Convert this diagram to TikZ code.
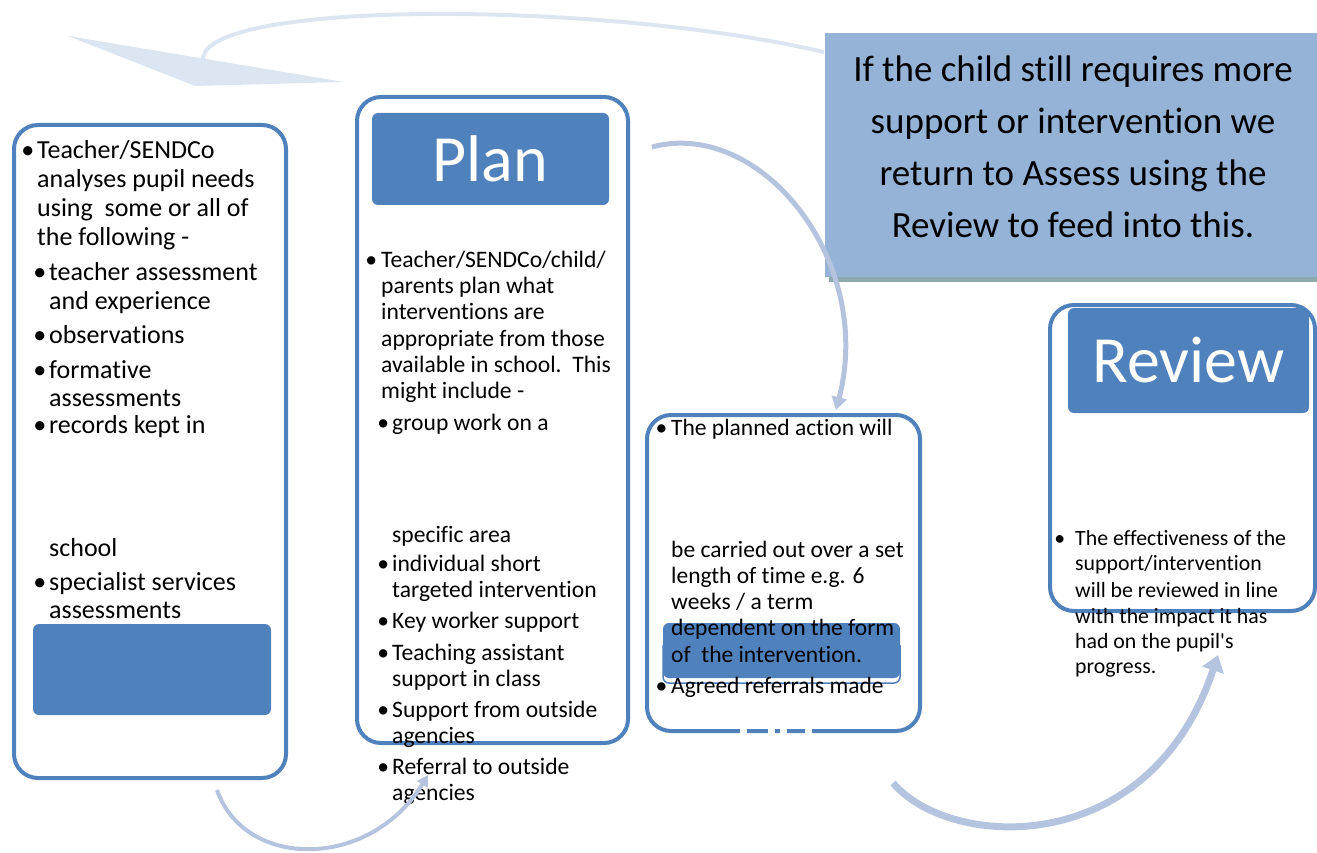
\documentclass[tikz,border=0pt]{standalone}
\usepackage{fontspec}
\setmainfont{Carlito}[Ligatures=NoCommon]
\usetikzlibrary{arrows.meta}

\definecolor{boxblue}{RGB}{79,129,189}
\definecolor{flowblue}{RGB}{180,196,223}
\definecolor{backblue}{RGB}{220,230,242}
\definecolor{noteblue}{RGB}{149,179,215}
\definecolor{noteshade}{RGB}{141,168,170}

\newcommand\bul[1][3pt]{\llap{\textbullet\hspace{#1}}}

\begin{document}
\begin{tikzpicture}[x=1pt, y=-1pt,
  frame/.style = {draw=boxblue, line width=4pt, rounded corners=24pt, fill=white,
    outer sep=0pt, inner sep=0pt, anchor=north west},
  head/.style = {fill=boxblue, rounded corners=6pt, outer sep=0pt, inner sep=0pt,
    anchor=north west},
  title/.style = {text=white, font=\fontsize{66}{70}\selectfont},
  line/.style = {anchor=base west, inner sep=0pt},
  asstxt/.style = {line, font=\fontsize{26}{29}\selectfont},
  plantxt/.style = {line, font=\fontsize{23.6}{26}\selectfont},
  dotxt/.style = {line, font=\fontsize{23.5}{26}\selectfont},
  revtxt/.style = {line, font=\fontsize{21.8}{26}\selectfont},
  notetxt/.style = {anchor=base, inner sep=0pt, font=\fontsize{37}{52}\selectfont},
  flow/.style = {draw=flowblue, line width=5pt}]

\useasboundingbox (0,0) rectangle (1317,853);

% return arrow behind the note
\coordinate (back-start) at (824,52);
\coordinate (back-end) at (203,60);
\draw[backblue, line width=4pt] (back-start) .. controls (600,0) and (200,0) .. (back-end);
\fill[backblue] (68,36) -- (195,86) -- (344,82) -- cycle;

% note
\fill[noteshade] (829,277) rectangle (1317,282);
\node[fill=noteblue, anchor=north west, inner sep=0pt, outer sep=0pt,
  minimum width=492pt, minimum height=244pt] (note) at (825,33) {};
\foreach \y/\t in {82/{If the child still requires more}, 134/{support or intervention we},
  186/{return to Assess using the}, 237/{Review to feed into this.}}
  \node[notetxt] (note\y) at (1073,\y) {\t};

% boxes
\node[frame, minimum width=272pt, minimum height=653pt] (assess) at (14,125) {};
\node[head, minimum width=238pt, minimum height=91pt] (assess-h) at (33,624) {};

\node[frame, minimum width=271pt, minimum height=646pt] (plan) at (357,97) {};
\node[head, minimum width=237pt, minimum height=92pt] (plan-h) at (372,113) {};
\node[title] (plan-t) at (plan-h) {Plan};

\node[frame, minimum width=273pt, minimum height=316pt] (do) at (647,415) {};
\draw[boxblue, line width=1.5pt, rounded corners=6pt] (663,645) -- (663,683) -- (900,683) -- (900,645);
\node[head, minimum width=237pt, minimum height=55pt] (do-h) at (663,623) {};
\foreach \a/\b in {740/747, 768/775, 780/787, 805/812}
  \fill[white] (\a,727) rectangle (\b,736);

\node[frame, minimum width=265pt, minimum height=306pt] (review) at (1050,305) {};
\node[head, minimum width=241pt, minimum height=105pt] (review-h) at (1068,308) {};
\node[title] (review-t) at (review-h) {Review};

% texts
\foreach \x/\y/\t in {37/159/{\bul Teacher/SENDCo}, 37/188/{analyses pupil needs},
  37/217/{using\ \ some or all of}, 37/246/{the following -},
  49/280/{\bul teacher assessment}, 49/309/{and experience},
  49/343/{\bul observations}, 49/378/{\bul formative}, 49/406/{assessments},
  49/433/{\bul records kept in}, 49/556/{school},
  49/590/{\bul specialist services}, 49/618/{assessments}}
  \node[asstxt] (assess\y) at (\x,\y) {\t};

\foreach \x/\y/\t in {381/267/{\bul[4pt]Teacher/SENDCo/child/}, 381/293/{parents plan what},
  381/319/{interventions are}, 381/346/{appropriate from those},
  381/372/{available in school.\ \ This}, 381/398/{might include -},
  392/430/{\bul group work on a}, 392/542/{specific area},
  392/571/{\bul individual short}, 392/597/{targeted intervention},
  392/628/{\bul Key worker support}, 392/660/{\bul Teaching assistant},
  392/686/{support in class}, 392/717/{\bul Support from outside},
  392/743/{agencies}, 392/774/{\bul Referral to outside}, 392/800/{agencies}}
  \node[plantxt] (plan\y) at (\x,\y) {\t};

\foreach \y/\t in {435/{\bul[4pt]The planned action will}, 557/{be carried out over a set},
  583/{length of time e.g. 6}, 609/{weeks / a term}, 635/{dependent on the form},
  662/{of\ \ the intervention.}, 693/{\bul[4pt]Agreed referrals made}}
  \node[dotxt] (do\y) at (671,\y) {\t};

\foreach \y/\t in {545/{\bul[10pt]The effectiveness of the}, 570/{support/intervention},
  597/{will be reviewed in line}, 623/{with the impact it has},
  648/{had on the pupil\textquotesingle s}, 673/{progress.}}
  \node[revtxt] (review\y) at (1075,\y) {\t};

% arrows
\coordinate (plan-out) at (652,147);
\coordinate (do-in) at (836,410);
\draw[flow, -{Triangle[length=13pt,width=15pt]}] (plan-out) .. controls (760,118) and (875,260) .. (do-in);

\coordinate (assess-out) at (217,790);
\coordinate (plan-in) at (428,775);
\draw[flow, line width=4pt, -{Triangle[length=11pt,width=12pt]}] (assess-out) .. controls (245,870) and (370,870) .. (plan-in);

\coordinate (do-out) at (893,783);
\coordinate (review-in) at (1218,655);
\draw[flow, line width=7pt, -{Triangle[length=16pt,width=22pt]}] (do-out) .. controls (950,850) and (1150,860) .. (review-in);

\end{tikzpicture}
\end{document}
